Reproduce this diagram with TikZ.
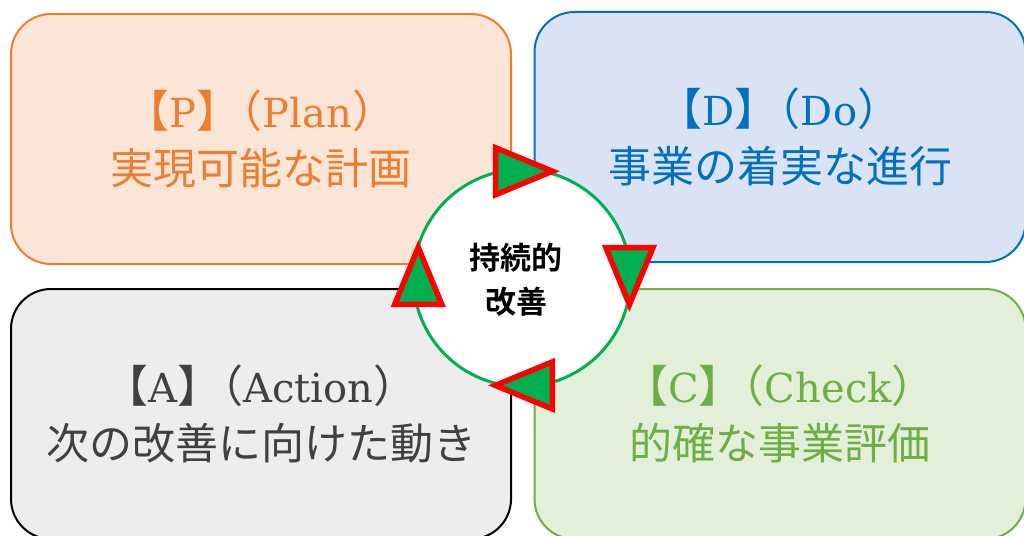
\documentclass[tikz,border=0pt]{standalone}
\usepackage{fontspec}
\setmainfont{DejaVu Serif}
\newfontfamily\cjk{Noto Sans CJK JP}
\newfontfamily\cjkbold{Noto Sans CJK JP Bold}

\definecolor{planline}{HTML}{ED7D31}
\definecolor{planfill}{HTML}{FBE5D6}
\definecolor{doline}{HTML}{0070C0}
\definecolor{dofill}{HTML}{DAE3F3}
\definecolor{checkline}{HTML}{70AD47}
\definecolor{checkfill}{HTML}{E2F0D9}
\definecolor{acttext}{HTML}{404040}
\definecolor{actfill}{HTML}{EDEDED}
\definecolor{ringgreen}{HTML}{00B050}

\newcommand\stagehead[2]{{\fontsize{44}{57}\selectfont\cjk 【}#1{\fontsize{44}{57}\selectfont\cjk 】}\kern-22pt{\fontsize{44}{57}\selectfont\cjk （}#2{\fontsize{44}{57}\selectfont\cjk ）}}

\begin{document}
\begin{tikzpicture}[x=1pt,y=-1pt,
  stage/.style={draw,rounded corners=40pt,line width=2pt,minimum width=500pt,
                minimum height=250pt,align=center,font=\fontsize{40}{57}\selectfont},
  ring/.style={circle,draw=ringgreen,fill=white,line width=3pt,minimum size=217pt,inner sep=0pt},
  ringtext/.style={align=center,font=\cjkbold\fontsize{31}{44}\selectfont},
  turn/.style={fill=ringgreen,draw=red,line width=5.5pt}]
  \useasboundingbox (0,0) rectangle (1024,535);
  %
  \node[stage,draw=planline,fill=planfill,text=planline] (plan) at (261,139)
       {\stagehead{P}{Plan}\\{\cjk\fontsize{43}{57}\selectfont 実現可能な計画}};
  \node[stage,draw=doline,fill=dofill,text=doline,minimum width=491pt] (do) at (780,137)
       {\stagehead{D}{Do}\\{\cjk\fontsize{43}{57}\selectfont 事業の着実な進行}};
  \node[stage,draw=black,fill=actfill,text=acttext] (act) at (261,414)
       {\stagehead{A}{Action}\\{\cjk\fontsize{43}{57}\selectfont 次の改善に向けた動き}};
  \node[stage,draw=checkline,fill=checkfill,text=checkline,minimum width=491pt] (check) at (780,414)
       {\stagehead{C}{Check}\\{\cjk\fontsize{43}{57}\selectfont 的確な事業評価}};
  %
  \node[ring] (kaizen) at (522,278) {};
  \node[ringtext] (kaizentext) at ([xshift=-6pt,yshift=-2pt]kaizen.center) {持続的\\改善};
  %
  \foreach \a/\d/\r in {-94/107/0,-6/108/-90,84/108/180,176/104/90}
           {\draw[turn,shift={(kaizen.center)},shift={(\a:\d)},rotate=\r] (38,0) -- (-19,-23.5) -- (-19,23.5) -- cycle;}
\end{tikzpicture}
\end{document}
